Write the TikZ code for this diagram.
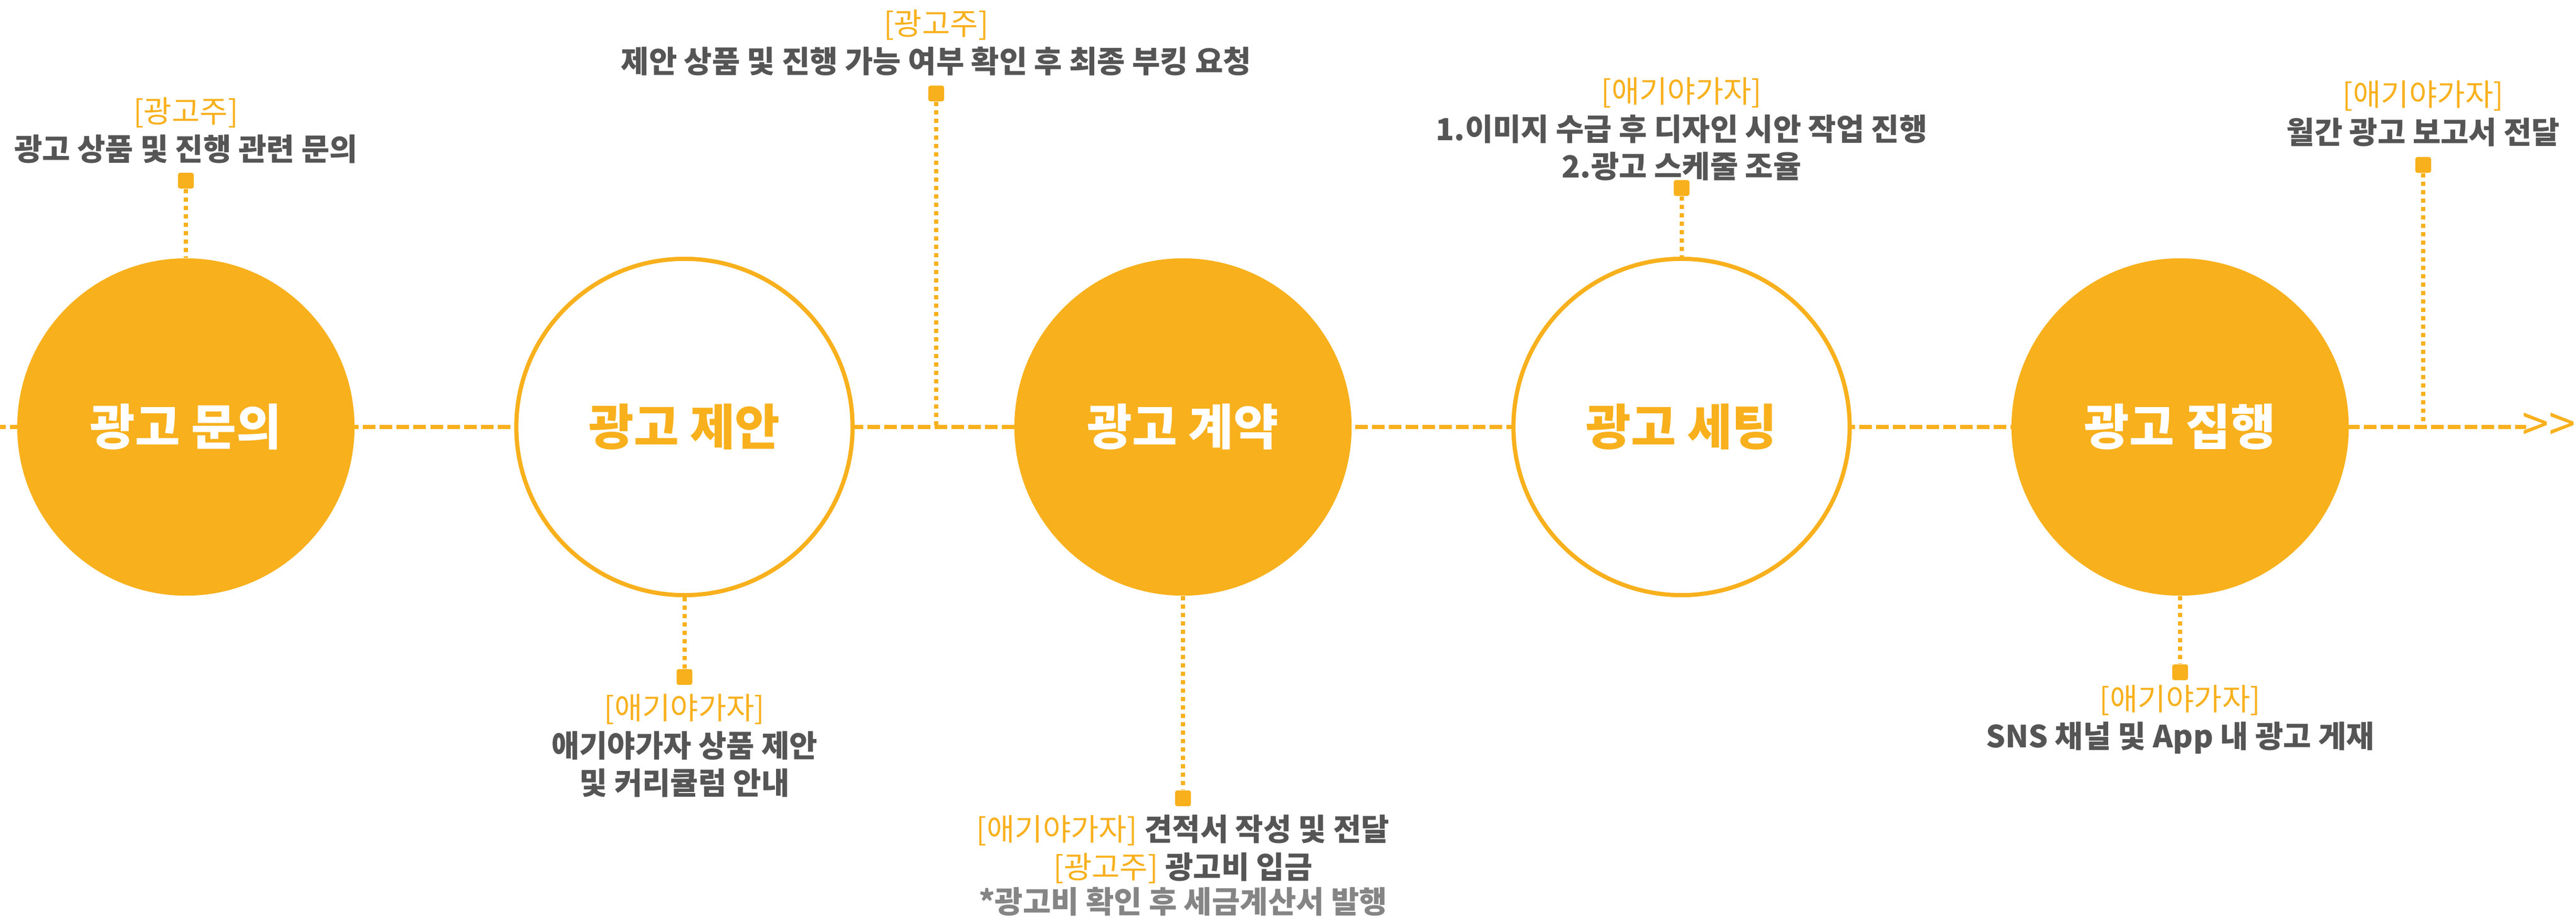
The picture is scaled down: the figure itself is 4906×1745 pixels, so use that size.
\documentclass[tikz,border=0pt]{standalone}
\usepackage{fontspec}
\setmainfont{Noto Sans CJK KR}
\definecolor{adyellow}{HTML}{F8B01C}
\definecolor{labelgray}{HTML}{555555}
\definecolor{notegray}{HTML}{858585}
\newcommand{\who}[1]{\textcolor{adyellow}{\mdseries #1}}
\tikzset{
  fullstep/.style={circle,fill=adyellow,minimum size=6.42cm,inner sep=0pt,
    text=white,font=\fontsize{26.5}{30}\selectfont\bfseries},
  openstep/.style={circle,draw=adyellow,line width=0.08cm,fill=white,minimum size=6.4cm,
    inner sep=0pt,text=adyellow,font=\fontsize{26.5}{30}\selectfont\bfseries},
  marker/.style={rectangle,fill=adyellow,rounded corners=0.04cm,minimum size=0.3cm,inner sep=0pt},
  dotlink/.style={adyellow,line width=0.08cm,dash pattern=on 0.08cm off 0.08cm},
  mainline/.style={adyellow,line width=0.08cm,dash pattern=on 0.24cm off 0.08cm,dash phase=0.13cm},
  tag/.style={align=center,text=labelgray,inner sep=0pt,
    font=\fontsize{16.5}{20.4}\selectfont\bfseries}
}

\begin{document}
\begin{tikzpicture}[x=0.01cm,y=-0.01cm]
\useasboundingbox (0,0) rectangle (4906,1745);

% time line
\coordinate (start) at (0,813);
\coordinate (stop) at (4811,813);
\coordinate (j3) at (1783,813);
\coordinate (j5) at (4615,813);
\draw[mainline] (start) -- (stop);
\node[anchor=east,inner sep=0pt,text=adyellow,font=\fontsize{26}{30}\selectfont] (more) at (4906,813) {>\kern0pt>};

% steps
\node[fullstep] (inquiry) at (354,813) {광고 문의};
\node[openstep] (proposal) at (1303.5,813) {광고 제안};
\node[fullstep] (contract) at (2253,813) {광고 계약};
\node[openstep] (setting) at (3202.5,813) {광고 세팅};
\node[fullstep] (launch) at (4152,813) {광고 집행};

% markers
\node[marker] (mk1) at (354,344) {};
\node[marker] (mk2) at (1303.5,1289) {};
\node[marker] (mk3) at (1783,178) {};
\node[marker] (mk4) at (2253,1520) {};
\node[marker] (mk5) at (3202.5,358) {};
\node[marker] (mk6) at (4152,1280) {};
\node[marker] (mk7) at (4615,314) {};

\draw[dotlink] (mk1) -- (inquiry);
\draw[dotlink] (proposal) -- (mk2);
\draw[dotlink] (mk3) -- (j3);
\draw[dotlink] (contract) -- (mk4);
\draw[dotlink] (mk5) -- (setting);
\draw[dotlink] (launch) -- (mk6);
\draw[dotlink] (mk7) -- (j5);

% labels
\node[tag] (t1) at (354,248) {\who{[광고주]}\\광고 상품 및 진행 관련 문의};
\node[tag] (t2) at (1303.5,1420) {\who{[애기야가자]}\\애기야가자 상품 제안\\및 커리큘럼 안내};
\node[tag] (t3) at (1783,81) {\who{[광고주]}\\제안 상품 및 진행 가능 여부 확인 후 최종 부킹 요청};
\node[tag] (t4) at (2253,1648) {\who{[애기야가자]} 견적서 작성 및 전달\\\who{[광고주]} 광고비 입금\\[-0.06cm]{\color{notegray}*광고비 확인 후 세금계산서 발행}};
\node[tag] (t5) at (3202.5,246) {\who{[애기야가자]}\\1.이미지 수급 후 디자인 시안 작업 진행\\2.광고 스케줄 조율};
\node[tag] (t6) at (4152,1370) {\who{[애기야가자]}\\SNS 채널 및 App 내 광고 게재};
\node[tag] (t7) at (4615,216) {\who{[애기야가자]}\\월간 광고 보고서 전달};
\end{tikzpicture}
\end{document}
